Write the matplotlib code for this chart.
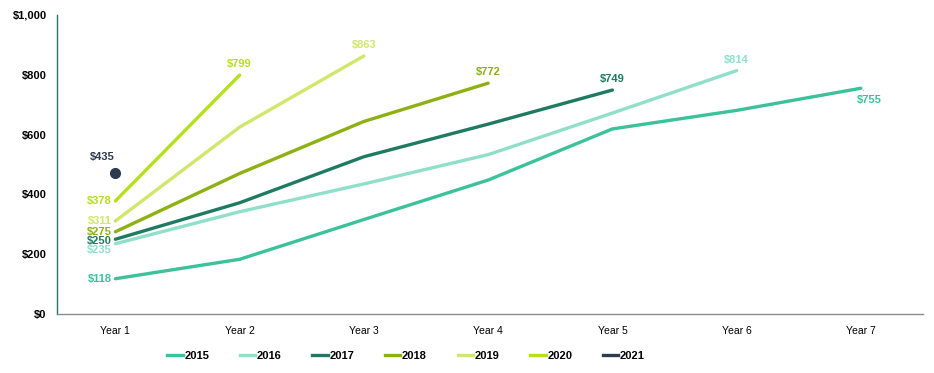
import matplotlib
matplotlib.use("Agg")
import matplotlib.pyplot as plt
from matplotlib import font_manager
import numpy as np

names = {f.name for f in font_manager.fontManager.ttflist}
FONT = "Liberation Sans Narrow" if "Liberation Sans Narrow" in names else "Liberation Sans"
plt.rcParams["font.family"] = [FONT, "DejaVu Sans"]

categories = ["Year 1", "Year 2", "Year 3", "Year 4", "Year 5", "Year 6", "Year 7"]
series_names = ["2015", "2016", "2017", "2018", "2019", "2020", "2021"]
v2015 = [118, 183, 316, 448, 619, 681, 755]
v2016 = [235, 342, 435, 533, 672, 814]
v2017 = [250, 372, 526, 635, 749]
v2018 = [275, 470, 644, 772]
v2019 = [311, 625, 863]
v2020 = [378, 799]
v2021 = [471]
start_labels = ["$118", "$235", "$250", "$275", "$311", "$378", "$435"]
end_labels = ["$755", "$814", "$749", "$772", "$863", "$799", None]
colors = ["#3cc29b", "#8fdfc9", "#1f7a62", "#8db012", "#cfe86c", "#b4e01c", "#2d3b4f"]
yticks = [0, 200, 400, 600, 800, 1000]

values = [v2015, v2016, v2017, v2018, v2019, v2020, v2021]

fig = plt.figure(figsize=(9.34, 3.73), dpi=100)
ax = fig.add_axes([57/934, 1-314/373, (923-57)/934, (314-15)/373])

px = 0.72  # points per pixel
for name, vals, col in zip(series_names, values, colors):
    x = np.arange(len(vals))
    if len(vals) == 1:
        ax.plot(x, vals, marker="o", markersize=7, color=col, linestyle="none", label=name)
    else:
        ax.plot(x, vals, color=col, lw=2.4, solid_capstyle="round", label=name)

# start labels (offsets in pixels: dx, dy)
start_off = [(-4, 0), (-4, -6), (-4, -2), (-4, 0), (-4, 0), (-4, 0), (-13, 16)]
for i, (vals, col, lab) in enumerate(zip(values, colors, start_labels)):
    dx, dy = start_off[i]
    ha = "center" if i == 6 else "right"
    ax.annotate(lab, (0, vals[0]), xytext=(dx*px, dy*px), textcoords="offset points",
                ha=ha, va="center", fontsize=8, fontweight="bold", color=col)

# small leader lines
for i in (0, 4):
    v = values[i][0]
    ax.annotate("", (0, v), xytext=(-3*px, 0), textcoords="offset points",
                arrowprops=dict(arrowstyle="-", color="#a0a0a0", lw=0.6))

# end labels
for i, (vals, col, lab) in enumerate(zip(values, colors, end_labels)):
    if lab is None:
        continue
    xi = len(vals) - 1
    if i == 0:
        ax.annotate(lab, (xi, vals[-1]), xytext=(8*px, -12*px), textcoords="offset points",
                    ha="center", va="center", fontsize=8, fontweight="bold", color=col)
        ax.annotate("", (xi, vals[-1]), xytext=(5*px, -4*px), textcoords="offset points",
                    arrowprops=dict(arrowstyle="-", color="#a0a0a0", lw=0.6))
    else:
        ax.annotate(lab, (xi, vals[-1]), xytext=(0, 11*px), textcoords="offset points",
                    ha="center", va="center", fontsize=8, fontweight="bold", color=col)

ax.set_xlim(-0.47, len(categories) - 0.5)
ax.set_ylim(0, 1000)
ax.set_xticks(range(len(categories)))
ax.set_xticklabels(categories, fontsize=7.5)
ax.set_yticks(yticks)
ax.set_yticklabels([f"${t:,}" for t in yticks], fontsize=8, fontweight="bold")
ax.tick_params(axis="both", length=0)
ax.tick_params(axis="y", pad=7.5)
ax.tick_params(axis="x", pad=9)
for s in ("top", "right"):
    ax.spines[s].set_visible(False)
ax.spines["left"].set_color("#1f7a62")
ax.spines["left"].set_linewidth(1.0)
ax.spines["bottom"].set_color("#8c8c8c")
ax.spines["bottom"].set_linewidth(1.0)

handles = [plt.Line2D([0], [0], color=c, lw=2.4) for c in colors]
fig.legend(handles, series_names, loc="center", bbox_to_anchor=(406/934, 1-356/373),
           ncol=7, frameon=False, handlelength=1.4, handletextpad=0.15,
           columnspacing=2.75, prop=dict(family=[FONT, "DejaVu Sans"], weight="bold", size=8))

fig.savefig("out.png", dpi=100, facecolor="white")
